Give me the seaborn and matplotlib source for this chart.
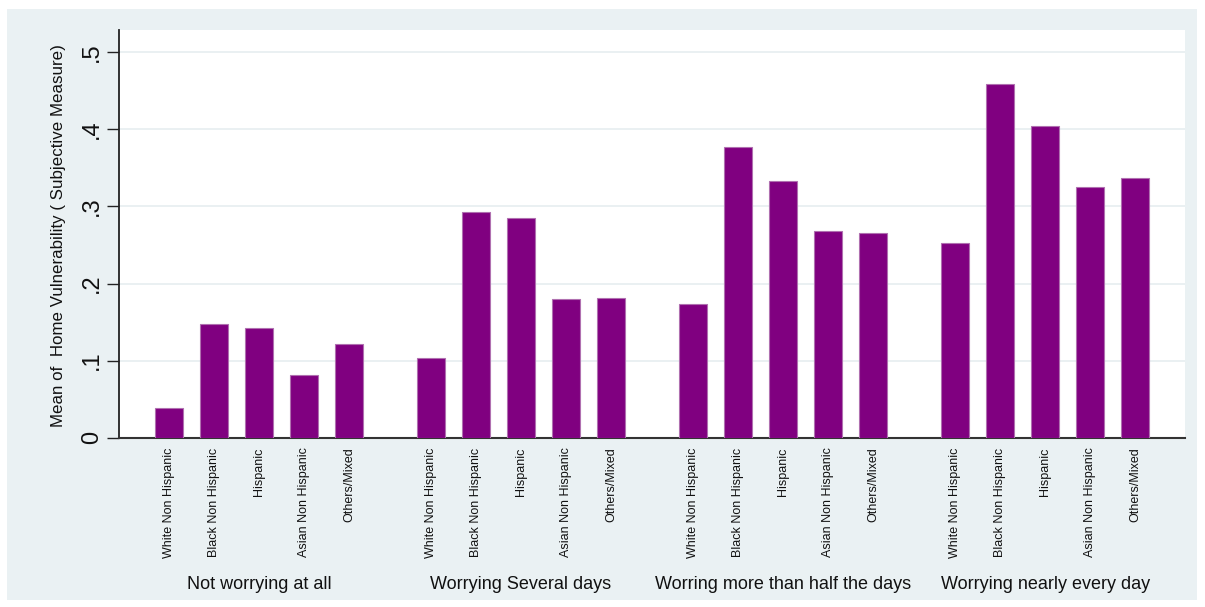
import numpy as np
import pandas as pd
import matplotlib
matplotlib.use("Agg")
import matplotlib.pyplot as plt
import seaborn as sns
from matplotlib.patches import Rectangle
from matplotlib import font_manager
from matplotlib.transforms import blended_transform_factory

# ---------------- data ----------------
groups = ["Not worrying at all", "Worrying Several days",
          "Worring more than half the days", "Worrying nearly every day"]
races = ["White Non Hispanic", "Black Non Hispanic", "Hispanic",
         "Asian Non Hispanic", "Others/Mixed"]
not_worrying = [0.038, 0.147, 0.142, 0.082, 0.122]
several_days = [0.103, 0.293, 0.285, 0.180, 0.181]
more_than_half = [0.173, 0.377, 0.333, 0.268, 0.266]
nearly_every_day = [0.253, 0.459, 0.404, 0.325, 0.337]
y_ticks = [0, 0.1, 0.2, 0.3, 0.4, 0.5]
y_tick_labels = ["0", ".1", ".2", ".3", ".4", ".5"]
y_label = "Mean of  Home Vulnerability ( Subjective Measure)"

series = [not_worrying, several_days, more_than_half, nearly_every_day]
rows = []
for g, vals in zip(groups, series):
    for r, v in zip(races, vals):
        rows.append({"group": g, "race": r, "value": v})
df = pd.DataFrame(rows)

# ---------------- style ----------------
sns.set_theme(style="white")

def pick(fams):
    for f in fams:
        try:
            font_manager.findfont(f, fallback_to_default=False)
            return f
        except Exception:
            continue
    return "DejaVu Sans"

regular = pick(["Liberation Sans", "Arial"])
plt.rcParams["font.family"] = [regular, "DejaVu Sans"]

BG = "#EAF1F3"
PURPLE = "#800080"

fig = plt.figure(figsize=(12.05, 6.07), dpi=100, facecolor="white")
W, H = 1205, 607
fig.patches.append(Rectangle((7 / W, 7 / H), (1197 - 7) / W, (598 - 7) / H,
                             transform=fig.transFigure, facecolor=BG,
                             edgecolor="none", zorder=-10))

left, right, top, bottom = 119, 1185, 30, 437.7
ax = fig.add_axes([left / W, 1 - bottom / H, (right - left) / W, (bottom - top) / H])
ax.set_facecolor("white")

sns.barplot(data=df, x="group", y="value", hue="race", order=groups,
            hue_order=races, palette={r: PURPLE for r in races},
            saturation=1, width=0.859, gap=0.378, errorbar=None,
            legend=False, edgecolor="#B070B0", linewidth=0.8, ax=ax, zorder=3)

ax.set_xlim(-0.534, 3.534)
ax.set_ylim(0, 0.529)

# per-bar tick labels, using the bar positions the library computed
bars = sorted(ax.patches, key=lambda p: p.get_x())
centers = [p.get_x() + p.get_width() / 2 for p in bars]
labels = [races[i % len(races)] for i in range(len(centers))]
ax.set_xticks(centers)
ax.set_xticklabels(labels, rotation=90, va="top", ha="center",
                   fontsize=9, color="#111111")
ax.tick_params(axis="x", length=0, pad=7)

ax.set_yticks(y_ticks)
ax.set_yticklabels(y_tick_labels, rotation=90, va="center", fontsize=17,
                   color="#111111")
ax.tick_params(axis="y", length=8.5, width=1.0, pad=3, color="#222222",
               direction="out", left=True)

ax.grid(axis="y", color="#E6EEF0", linewidth=1.2, zorder=0)
ax.grid(axis="x", visible=False)
ax.set_axisbelow(True)

for s in ["top", "right"]:
    ax.spines[s].set_visible(False)
ax.spines["left"].set_color("#222222")
ax.spines["left"].set_linewidth(1.3)
ax.spines["bottom"].set_color("#333333")
ax.spines["bottom"].set_linewidth(1.5)

ax.set_xlabel("")
ax.set_ylabel(y_label, fontsize=12.2, color="#111111", va="center")
ax.yaxis.set_label_coords(-0.057, 0.496)

trans = blended_transform_factory(ax.transData, ax.transAxes)
for i, g in enumerate(groups):
    ax.text(i, -0.361, g, transform=trans, ha="center", va="center",
            fontsize=13, color="#111111")

fig.savefig("out.png", dpi=100, facecolor="white")
